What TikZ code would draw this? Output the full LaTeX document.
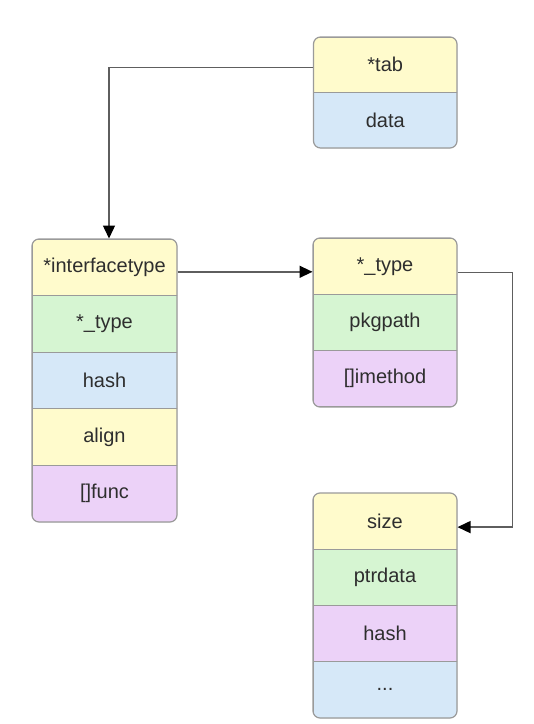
\documentclass[tikz,border=0pt]{standalone}
\usepackage{fontspec}
\setmainfont{Liberation Sans}
\usetikzlibrary{arrows.meta,calc}
\definecolor{cyel}{HTML}{FFFBCC}
\definecolor{cgrn}{HTML}{D6F5D2}
\definecolor{cblu}{HTML}{D6E8F8}
\definecolor{cpur}{HTML}{ECD2F8}
\definecolor{cbrd}{HTML}{9A9A9A}
\definecolor{ctxt}{HTML}{2E2E2E}
\definecolor{cline}{HTML}{5E5E5E}
\tikzset{
  row/.style={rectangle, draw=cbrd, line width=1pt, minimum width=#1, inner sep=0pt,
    font=\fontsize{20}{24}\selectfont, text=ctxt},
  outline/.style={draw=cbrd, line width=1.2pt, rounded corners=7pt},
  conn/.style={draw=cline, line width=1.4pt, -{Triangle[length=13pt,width=12pt,color=black]}},
}
\begin{document}
\begin{tikzpicture}[x=1pt,y=-1pt]
\useasboundingbox[fill=white] (0,0) rectangle (534,724);
% ---- tab box
\begin{scope}
\clip[rounded corners=7pt] (313.5,37) rectangle (457,148);
\node[row=143.5pt, minimum height=55.5pt, fill=cyel] (tab) at (385.25,64.75) {*tab};
\node[row=143.5pt, minimum height=55.5pt, fill=cblu] (data) at (385.25,120.25) {data};
\end{scope}
\draw[outline] (313.5,37) rectangle (457,148);
% ---- interfacetype box
\begin{scope}
\clip[rounded corners=7pt] (32,239) rectangle (177,522);
\node[row=145pt, minimum height=56.6pt, fill=cyel] (iface) at (104.5,267.3) {*interfacetype};
\node[row=145pt, minimum height=56.6pt, fill=cgrn] (itype) at (104.5,323.9) {*\_type};
\node[row=145pt, minimum height=56.6pt, fill=cblu] (ihash) at (104.5,380.5) {hash};
\node[row=145pt, minimum height=56.6pt, fill=cyel] (ialign) at (104.5,437.1) {align};
\node[row=145pt, minimum height=56.6pt, fill=cpur] (ifunc) at (104.5,493.7) {[]func};
\end{scope}
\draw[outline] (32,239) rectangle (177,522);
% ---- _type box
\begin{scope}
\clip[rounded corners=7pt] (313,238) rectangle (457,407);
\node[row=144pt, minimum height=56.33pt, fill=cyel] (typ) at (385,266.2) {*\_type};
\node[row=144pt, minimum height=56.33pt, fill=cgrn] (pkg) at (385,322.5) {pkgpath};
\node[row=144pt, minimum height=56.33pt, fill=cpur] (imeth) at (385,378.8) {[]imethod};
\end{scope}
\draw[outline] (313,238) rectangle (457,407);
% ---- size box
\begin{scope}
\clip[rounded corners=7pt] (313,493) rectangle (457,718);
\node[row=144pt, minimum height=56.25pt, fill=cyel] (size) at (385,521.1) {size};
\node[row=144pt, minimum height=56.25pt, fill=cgrn] (ptr) at (385,577.4) {ptrdata};
\node[row=144pt, minimum height=56.25pt, fill=cpur] (shash) at (385,633.6) {hash};
\node[row=144pt, minimum height=56.25pt, fill=cblu] (dots) at (385,689.9) {...};
\end{scope}
\draw[outline] (313,493) rectangle (457,718);
% ---- connectors
\coordinate (tabout) at ($(tab.west)+(0,3)$);
\coordinate (ifin) at ($(iface.north)+(4.5,0)$);
\draw[conn] (tabout) -| (ifin);
\coordinate (ifout) at ($(iface.east)+(0,4.5)$);
\draw[conn] (ifout) -- (ifout -| typ.west);
\coordinate (tyout) at ($(typ.east)+(0,6.5)$);
\coordinate (bend) at ($(tyout)+(55,0)$);
\coordinate (szin) at ($(size.east)+(0,6)$);
\draw[conn] (tyout) -- (bend) |- (szin);
\end{tikzpicture}
\end{document}
